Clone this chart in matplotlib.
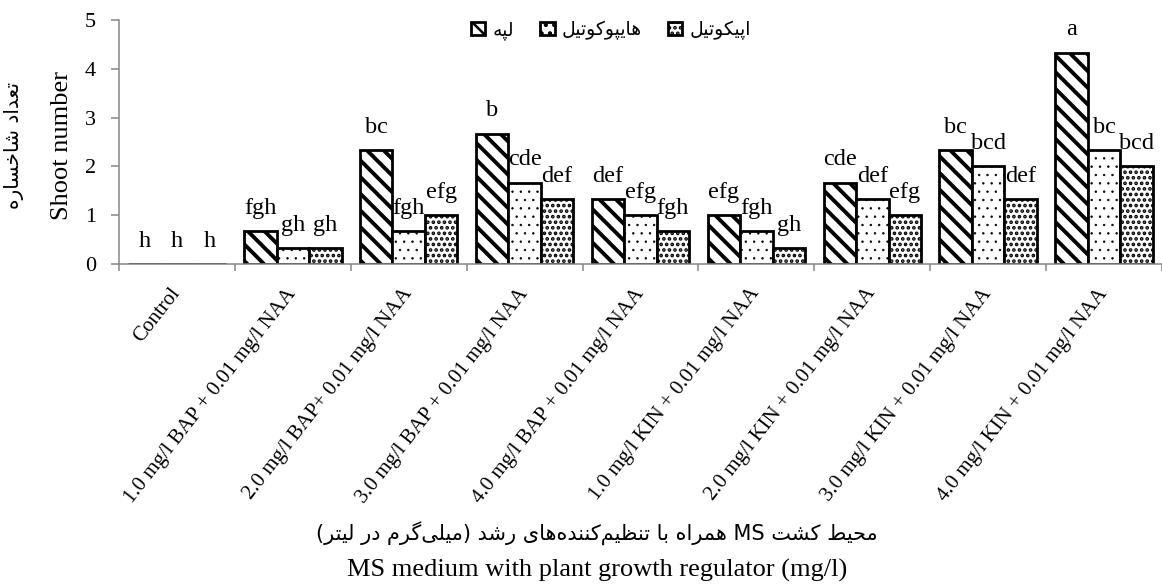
import re

import matplotlib
matplotlib.use("Agg")
import matplotlib.pyplot as plt
import numpy as np

# --- data ----------------------------------------------------------------- #
CATEGORIES = [
    "Control",
    "1.0 mg/l BAP + 0.01 mg/l NAA",
    "2.0 mg/l BAP+ 0.01 mg/l NAA",
    "3.0 mg/l BAP + 0.01 mg/l NAA",
    "4.0 mg/l BAP + 0.01 mg/l NAA",
    "1.0 mg/l KIN + 0.01 mg/l NAA",
    "2.0 mg/l KIN + 0.01 mg/l NAA",
    "3.0 mg/l KIN + 0.01 mg/l NAA",
    "4.0 mg/l KIN + 0.01 mg/l NAA",
]
COTYLEDON = [0, 0.67, 2.33, 2.67, 1.33, 1.0, 1.67, 2.33, 4.33]
HYPOCOTYL = [0, 0.33, 0.67, 1.67, 1.0, 0.67, 1.33, 2.0, 2.33]
EPICOTYL = [0, 0.33, 1.0, 1.33, 0.67, 0.33, 1.0, 1.33, 2.0]

COTYLEDON_LETTERS = ["h", "fgh", "bc", "b", "def", "efg", "cde", "bc", "a"]
HYPOCOTYL_LETTERS = ["h", "gh", "fgh", "cde", "efg", "fgh", "def", "bcd", "bc"]
EPICOTYL_LETTERS = ["h", "gh", "efg", "def", "fgh", "gh", "efg", "def", "bcd"]

SERIES_FA = ["لپه", "هایپوکوتیل", "اپیکوتیل"]
YLABEL_FA = "تعداد شاخساره"
YLABEL_EN = "Shoot number"
XLABEL_FA = "محیط کشت MS همراه با تنظیم‌کننده‌های رشد (میلی‌گرم در لیتر)"
XLABEL_EN = "MS medium with plant growth regulator (mg/l)"

# --- tiny Persian shaper (matplotlib does no Arabic shaping / bidi) -------- #
FORMS = {  # isolated, final, initial, medial
    "\u0627": ("\uFE8D", "\uFE8E", None, None),
    "\u0628": ("\uFE8F", "\uFE90", "\uFE91", "\uFE92"),
    "\u067E": ("\uFB56", "\uFB57", "\uFB58", "\uFB59"),
    "\u062A": ("\uFE95", "\uFE96", "\uFE97", "\uFE98"),
    "\u062D": ("\uFEA1", "\uFEA2", "\uFEA3", "\uFEA4"),
    "\u062E": ("\uFEA5", "\uFEA6", "\uFEA7", "\uFEA8"),
    "\u062F": ("\uFEA9", "\uFEAA", None, None),
    "\u0631": ("\uFEAD", "\uFEAE", None, None),
    "\u0633": ("\uFEB1", "\uFEB2", "\uFEB3", "\uFEB4"),
    "\u0634": ("\uFEB5", "\uFEB6", "\uFEB7", "\uFEB8"),
    "\u0637": ("\uFEC1", "\uFEC2", "\uFEC3", "\uFEC4"),
    "\u0638": ("\uFEC5", "\uFEC6", "\uFEC7", "\uFEC8"),
    "\u0639": ("\uFEC9", "\uFECA", "\uFECB", "\uFECC"),
    "\u06A9": ("\uFB8E", "\uFB8F", "\uFB90", "\uFB91"),
    "\u06AF": ("\uFB92", "\uFB93", "\uFB94", "\uFB95"),
    "\u0644": ("\uFEDD", "\uFEDE", "\uFEDF", "\uFEE0"),
    "\u0645": ("\uFEE1", "\uFEE2", "\uFEE3", "\uFEE4"),
    "\u0646": ("\uFEE5", "\uFEE6", "\uFEE7", "\uFEE8"),
    "\u0647": ("\uFEE9", "\uFEEA", "\uFEEB", "\uFEEC"),
    "\u0648": ("\uFEED", "\uFEEE", None, None),
    "\u06CC": ("\uFBFC", "\uFBFD", "\uFBFE", "\uFBFF"),
}


def fa(text):
    text = text.replace("\u064A", "\u06CC").replace("\u0643", "\u06A9")
    out = []
    for i, ch in enumerate(text):
        if ch not in FORMS:
            out.append(ch)
            continue
        prev = text[i - 1] if i > 0 else ""
        nxt = text[i + 1] if i + 1 < len(text) else ""
        jp = prev in FORMS and FORMS[prev][2] is not None
        jn = FORMS[ch][2] is not None and nxt in FORMS
        iso, fin, ini, med = FORMS[ch]
        out.append(med if jp and jn else fin if jp else ini if jn else iso)
    vis = "".join(out).replace("\u200c", "")[::-1]
    vis = vis.translate(str.maketrans("()", ")("))
    return re.sub(r"[A-Za-z]+", lambda m: m.group(0)[::-1], vis)


SERIF = "Liberation Serif"
FA_FONT = "DejaVu Sans"
AXIS_GRAY = "#868686"


def main():
    plt.rcParams.update({"font.family": SERIF, "hatch.color": "black"})
    fig = plt.figure(figsize=(11.62, 5.87), dpi=100)
    ax = fig.add_axes([119 / 1162, 1 - 264 / 587, 1 - 119 / 1162, (264 - 20) / 587])

    x = np.arange(len(CATEGORIES))
    w = 0.28
    specs = [
        (COTYLEDON, COTYLEDON_LETTERS, "\\\\", 2.8, -w),
        (HYPOCOTYL, HYPOCOTYL_LETTERS, "..", 0.5, 0.0),
        (EPICOTYL, EPICOTYL_LETTERS, "...", 1.8, w),
    ]
    handles = []
    for vals, letters, hatch, hlw, off in specs:
        plt.rcParams["hatch.linewidth"] = hlw
        bars = ax.bar(x + off, vals, w, color="white", edgecolor="black",
                      linewidth=2.0, hatch=hatch)
        for b in bars:
            if hasattr(b, "set_hatch_linewidth"):
                b.set_hatch_linewidth(hlw)
        handles.append(bars)
        for xi, v, lab in zip(x + off, vals, letters):
            ax.annotate(lab, (xi, v), xytext=(0, 12.5), textcoords="offset points",
                        ha="center", va="baseline", fontsize=17.5)

    ax.set_ylim(0, 5)
    ax.set_xlim(-0.5, 8.45)
    ax.set_yticks(range(6))
    ax.tick_params(axis="y", labelsize=16, length=5.5, width=1.1, color=AXIS_GRAY,
                   pad=11)
    ax.set_xticks(x)
    ax.set_xticklabels(CATEGORIES, rotation=52, ha="right", va="center",
                       rotation_mode="anchor", fontsize=15)
    ax.tick_params(axis="x", which="major", length=0, pad=19)
    ax.set_xticks(np.arange(-0.5, 9.0, 1.0), minor=True)
    ax.tick_params(axis="x", which="minor", length=5, width=1.1, color=AXIS_GRAY)
    for s in ("top", "right"):
        ax.spines[s].set_visible(False)
    for s in ("left", "bottom"):
        ax.spines[s].set_color(AXIS_GRAY)
        ax.spines[s].set_linewidth(1.1)

    fig.legend(handles, [fa(s) for s in SERIES_FA], loc="center",
               bbox_to_anchor=(0.526, 0.949), ncol=3, frameon=False,
               handlelength=0.75, handleheight=0.75, handletextpad=0.4,
               columnspacing=1.4, prop={"family": FA_FONT, "size": 13.5})

    fig.text(14 / 1162, 1 - 145 / 587, fa(YLABEL_FA), rotation=90, ha="center",
             va="center", family=FA_FONT, fontsize=14.5)
    fig.text(62 / 1162, 1 - 145 / 587, YLABEL_EN, rotation=90, ha="center",
             va="center", fontsize=19)
    fig.text(597 / 1162, 1 - 533 / 587, fa(XLABEL_FA), ha="center", va="center",
             family=FA_FONT, fontsize=15)
    fig.text(597 / 1162, 1 - 570 / 587, XLABEL_EN, ha="center", va="center",
             fontsize=19)

    fig.savefig("out.png", dpi=100)


if __name__ == "__main__":
    main()
